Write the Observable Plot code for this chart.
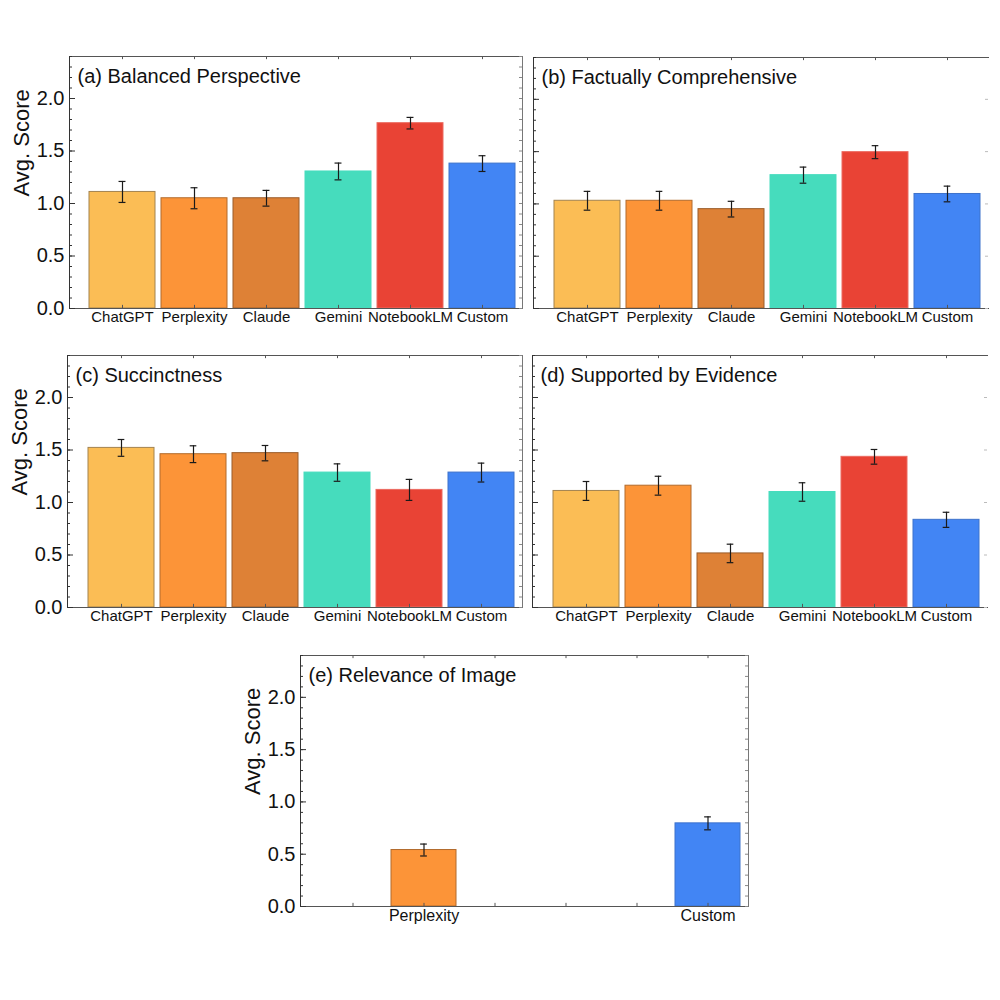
<!DOCTYPE html>
<html><head><meta charset="utf-8">
<script src="https://cdn.jsdelivr.net/npm/d3@7"></script>
<script src="https://cdn.jsdelivr.net/npm/@observablehq/plot@0.6"></script>
<style>
body{margin:0;background:#fff;}
#fig{position:relative;width:1000px;height:1000px;font-family:"Liberation Sans",Arial,sans-serif;}
.panel{position:absolute;}
</style></head><body><div id="fig"></div>
<script>
// ---- data ----
const models = ["ChatGPT","Perplexity","Claude","Gemini","NotebookLM","Custom"];
const fillColors = ["#FBBD55","#FC9438","#DE8136","#46DCBD","#E94335","#4285F4"];
const strokeColors = ["#a3834f","#b26b2c","#9a5c2a","#46DCBD","#ec6a60","#3d72cc"];
const yTickValues = [0, 0.5, 1.0, 1.5, 2.0];
const yLabel = "Avg. Score";

const titleA = "(a) Balanced Perspective";
const balancedScore = [1.11, 1.05, 1.05, 1.305, 1.765, 1.38];
const balancedErr   = [0.10, 0.10, 0.075, 0.08, 0.055, 0.075];

const titleB = "(b) Factually Comprehensive";
const factualScore = [1.03, 1.03, 0.95, 1.275, 1.495, 1.095];
const factualErr   = [0.09, 0.09, 0.075, 0.077, 0.062, 0.075];

const titleC = "(c) Succinctness";
const succinctScore = [1.52, 1.46, 1.47, 1.285, 1.12, 1.285];
const succinctErr   = [0.08, 0.08, 0.073, 0.083, 0.10, 0.09];

const titleD = "(d) Supported by Evidence";
const evidenceScore = [1.11, 1.16, 0.515, 1.10, 1.435, 0.835];
const evidenceErr   = [0.09, 0.09, 0.088, 0.088, 0.07, 0.072];

const titleE = "(e) Relevance of Image";
const relevanceModels = ["Perplexity","Custom"];
const relevanceScore = [0.54, 0.795];
const relevanceErr   = [0.057, 0.062];

// ---- layout ----
const panels = [
  {title: titleA, cats: models, vals: balancedScore, errs: balancedErr, left: 69, top: 56, w: 453, h: 252, yAxis: true, right: true, catSize: 15},
  {title: titleB, cats: models, vals: factualScore, errs: factualErr, left: 533, top: 57, w: 455, h: 251, yAxis: false, right: false, catSize: 15},
  {title: titleC, cats: models, vals: succinctScore, errs: succinctErr, left: 67, top: 355, w: 455, h: 252, yAxis: true, right: true, catSize: 15},
  {title: titleD, cats: models, vals: evidenceScore, errs: evidenceErr, left: 532, top: 355, w: 455, h: 252, yAxis: false, right: false, catSize: 15},
  {title: titleE, cats: relevanceModels, vals: relevanceScore, errs: relevanceErr, left: 300, top: 655, w: 448, h: 251, yAxis: true, right: true, catSize: 16}
];

const minorTicks = d3.range(0, 2.45, 0.1).map(v => Math.round(v * 10) / 10);
const fig = document.getElementById("fig");

for (const p of panels) {
  const data = p.cats.map((c, i) => {
    const k = models.indexOf(c);
    return {model: c, value: p.vals[i], err: p.errs[i], fill: fillColors[k], stroke: strokeColors[k]};
  });
  const mL = p.yAxis ? 75 : 12, mT = 6, mB = 34, mR = 4;
  const insL = 18, insR = 6, padIn = 0.09;
  const step = (p.w - insL - insR) / (models.length - padIn);
  const bw = step * (1 - padIn);
  const capInset = (bw - 7) / 2;

  const marks = [
    Plot.barY(data, {x: "model", y: "value", fill: "fill", stroke: "stroke", strokeWidth: 1}),
    Plot.ruleX(data, {x: "model", y1: d => d.value - d.err, y2: d => d.value + d.err, stroke: "#1a1a1a", strokeWidth: 1.2}),
    Plot.tickY(data, {x: "model", y: d => d.value + d.err, insetLeft: capInset, insetRight: capInset, stroke: "#1a1a1a", strokeWidth: 1.2}),
    Plot.tickY(data, {x: "model", y: d => d.value - d.err, insetLeft: capInset, insetRight: capInset, stroke: "#1a1a1a", strokeWidth: 1.2}),
    // frame lines
    Plot.frame({anchor: "top", stroke: "#555"}),
    Plot.frame({anchor: "bottom", stroke: "#555"}),
    Plot.frame({anchor: "left", stroke: "#333"}),
    // left inward ticks
    Plot.tickY(minorTicks, {y: d => d, insetRight: p.w - 3, stroke: "#333"}),
    Plot.tickY(yTickValues, {y: d => d, insetRight: p.w - 6, stroke: "#333"}),
    // top/bottom ticks at categories
    Plot.ruleX(models, {x: d => d, y1: 2.4, y2: 2.37, stroke: "#555"}),
    Plot.ruleX(models, {x: d => d, y1: 0, y2: 0.03, stroke: "#555"}),
    // category labels
    Plot.axisX({anchor: "bottom", tickSize: 0, tickPadding: 3, fontSize: p.catSize, label: null,
      tickFormat: d => p.cats.includes(d) ? d : ""}),
    // title
    Plot.text([p.title], {frameAnchor: "top-left", text: d => d, dx: 8, dy: 12, fontSize: 20, textAnchor: "start", lineAnchor: "top", fill: "#111"})
  ];
  if (p.right) {
    marks.push(Plot.frame({anchor: "right", stroke: "#777"}));
    marks.push(Plot.tickY(minorTicks, {y: d => d, insetLeft: p.w - 3, stroke: "#888"}));
  } else {
    marks.push(Plot.tickY(yTickValues, {y: d => d, insetLeft: p.w - 3, stroke: "#bbb"}));
  }
  if (p.yAxis) {
    marks.push(Plot.axisY({ticks: yTickValues, tickSize: 0, tickPadding: 5, tickFormat: d3.format(".1f"), fontSize: 20, label: null}));
    marks.push(Plot.text([yLabel], {frameAnchor: "left", rotate: -90, dx: -48, dy: 14, fontSize: 22, text: d => d, fill: "#111"}));
  }

  const chart = Plot.plot({
    width: mL + p.w + mR,
    height: mT + p.h + mB,
    marginLeft: mL, marginRight: mR, marginTop: mT, marginBottom: mB,
    style: {fontFamily: "'Liberation Sans', Arial, sans-serif", color: "#111", background: "transparent", overflow: "visible"},
    x: {domain: models, insetLeft: insL, insetRight: insR, paddingInner: padIn, paddingOuter: 0, axis: null},
    y: {domain: [0, 2.4], axis: null},
    color: {type: "identity"},
    marks
  });
  const div = document.createElement("div");
  div.className = "panel";
  div.style.left = (p.left - mL) + "px";
  div.style.top = (p.top - mT) + "px";
  div.appendChild(chart);
  fig.appendChild(div);
}
</script></body></html>
